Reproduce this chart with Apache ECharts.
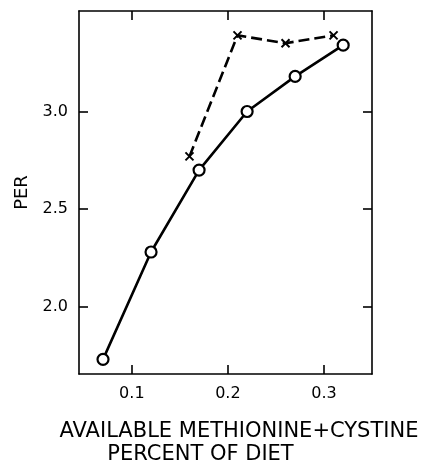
<!DOCTYPE html>
<html>
<head>
<meta charset="utf-8">
<script src="https://cdn.jsdelivr.net/npm/echarts@6/dist/echarts.min.js"></script>
<style>
html,body{margin:0;padding:0;background:#fff;}
#chart{width:422px;height:464px;}
</style>
</head>
<body>
<div id="chart"></div>
<script>
// Solid line with open circles
const solidX = [0.07, 0.12, 0.17, 0.22, 0.27, 0.32];
const solidY = [1.73, 2.28, 2.70, 3.00, 3.18, 3.34];
// Dashed line with x marks
const dashX = [0.16, 0.21, 0.26, 0.31];
const dashY = [2.77, 3.39, 3.35, 3.39];
const xTicks = [0.1, 0.2, 0.3];
const yTicks = [2.0, 2.5, 3.0];
const xTitle1 = 'AVAILABLE METHIONINE+CYSTINE';
const xTitle2 = 'PERCENT OF DIET';
const yTitle = 'PER';

const FONT = 'DejaVu Sans';
const xRange = [0.045, 0.35];
const yRange = [1.655, 3.515];

const chart = echarts.init(document.getElementById('chart'), null, {renderer: 'canvas'});
const axisLine = {show: true, lineStyle: {color: '#000', width: 1.6}};
const tick = (vals) => ({show: true, inside: true, length: 9, customValues: vals, lineStyle: {color: '#000', width: 1.6}});

const crossPath = 'path://M0,0L10,10M10,0L0,10';

chart.setOption({
  animation: false,
  grid: {left: 79, right: 50, top: 11, bottom: 90, containLabel: false, outerBoundsMode: 'none'},
  xAxis: [{
    type: 'value', min: xRange[0], max: xRange[1],
    axisLine: axisLine, axisTick: tick(xTicks), splitLine: {show: false},
    axisLabel: {customValues: xTicks, formatter: v => v.toFixed(1), color: '#000', fontFamily: FONT, fontSize: 16, margin: 12},
    name: '{a|' + xTitle1 + '}\n{b|' + xTitle2 + '}',
    nameLocation: 'middle', nameGap: 46,
    nameTextStyle: {
      color: '#000', fontFamily: FONT,
      rich: {
        a: {fontFamily: FONT, fontSize: 21, color: '#000', lineHeight: 23, padding: [0, 0, 0, 27]},
        b: {fontFamily: FONT, fontSize: 21, color: '#000', lineHeight: 23, padding: [0, 50, 0, 0]}
      }
    }
  }, {
    type: 'value', position: 'top', min: xRange[0], max: xRange[1],
    axisLine: axisLine, axisTick: tick(xTicks), axisLabel: {show: false}, splitLine: {show: false}
  }],
  yAxis: [{
    type: 'value', min: yRange[0], max: yRange[1],
    axisLine: axisLine, axisTick: tick(yTicks), splitLine: {show: false},
    axisLabel: {customValues: yTicks, formatter: v => v.toFixed(1), color: '#000', fontFamily: FONT, fontSize: 16, margin: 11},
    name: yTitle, nameLocation: 'middle', nameGap: 48, nameRotate: 90,
    nameTextStyle: {color: '#000', fontFamily: FONT, fontSize: 18}
  }, {
    type: 'value', position: 'right', min: yRange[0], max: yRange[1],
    axisLine: axisLine, axisTick: tick(yTicks), axisLabel: {show: false}, splitLine: {show: false}
  }],
  series: [{
    type: 'line',
    data: solidX.map((x, i) => [x, solidY[i]]),
    lineStyle: {color: '#000', width: 2.6},
    symbol: 'circle', symbolSize: 11,
    itemStyle: {color: '#fff', borderColor: '#000', borderWidth: 2.2},
    z: 3
  }, {
    type: 'line',
    data: dashX.map((x, i) => [x, dashY[i]]),
    lineStyle: {color: '#000', width: 2.6, type: [11, 5]},
    symbol: crossPath, symbolSize: 8,
    itemStyle: {color: 'none', borderColor: '#000', borderWidth: 2},
    z: 2
  }]
});
</script>
</body>
</html>
